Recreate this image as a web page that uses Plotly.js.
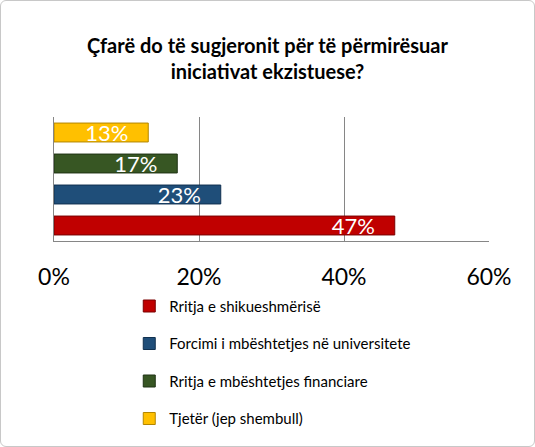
<!DOCTYPE html>
<html>
<head>
<meta charset="utf-8">
<script src="https://cdn.plot.ly/plotly-3.0.1.min.js"></script>
<style>
  html, body { margin: 0; padding: 0; background: #fff; overflow: hidden; }
  #chart { position: absolute; left: 0; top: 0; width: 533px; height: 445px;
           border: 1px solid #c8c8c8; border-radius: 6px; overflow: hidden; }
</style>
</head>
<body>
<div id="chart"></div>
<script>
// answers (bottom bar first, same order as legend)
var answers = ['Rritja e shikueshmërisë', 'Forcimi i mbështetjes në universitete',
               'Rritja e mbështetjes financiare', 'Tjetër (jep shembull)'];
var shares = [47, 23, 17, 13];
var colors = ['#c00000', '#1f4e79', '#375623', '#ffc000'];
var edges = ['#7a0000', '#10304f', '#1f3314', '#b38600'];
var xticks = [0, 20, 40, 60];

var font = 'Lato, "Liberation Sans", sans-serif';

var data = answers.map(function (name, i) {
    return {
        type: 'bar',
        orientation: 'h',
        name: name,
        x: [shares[i]],
        y: ['s' + i],
        marker: { color: colors[i], line: { color: edges[i], width: 1 } },
        text: [shares[i] + '%\u00a0\u00a0\u00a0'],
        textposition: 'inside',
        insidetextanchor: 'end',
        constraintext: 'none',
        textfont: { color: '#ffffff', size: 22, family: font },
        legendgroup: 'g' + i,
        hoverinfo: 'x+name'
    };
});

var layout = {
    width: 533,
    height: 445,
    margin: { l: 53, r: 45, t: 116, b: 204 },
    paper_bgcolor: 'rgba(0,0,0,0)',
    plot_bgcolor: 'rgba(0,0,0,0)',
    font: { family: font, color: '#000' },
    title: {
        text: '<b>Çfarë do të sugjeronit për të përmirësuar<br>iniciativat ekzistuese?</b>',
        font: { size: 20, family: font },
        x: 0.5, xanchor: 'center',
        y: 0.883, yanchor: 'top'
    },
    barmode: 'overlay',
    bargap: 0.39,
    xaxis: {
        range: [0, 60],
        tickmode: 'array',
        tickvals: xticks,
        ticktext: xticks.map(function (v) { return v + '%'; }),
        showgrid: true,
        gridcolor: '#868686',
        gridwidth: 1,
        showline: true,
        linecolor: '#868686',
        zeroline: false,
        ticks: '',
        ticklabelstandoff: 15,
        tickfont: { size: 23, family: font }
    },
    yaxis: {
        categoryorder: 'array',
        categoryarray: ['s0', 's1', 's2', 's3'],
        showticklabels: false,
        showline: true,
        linecolor: '#868686',
        showgrid: false,
        ticks: ''
    },
    showlegend: true,
    legend: {
        x: 0.173, xanchor: 'left',
        y: -0.382, yanchor: 'top',
        traceorder: 'grouped',
        tracegroupgap: 15,
        font: { size: 15, family: font },
        itemwidth: 30
    }
};

Plotly.newPlot('chart', data, layout, { displayModeBar: false });
</script>
</body>
</html>
